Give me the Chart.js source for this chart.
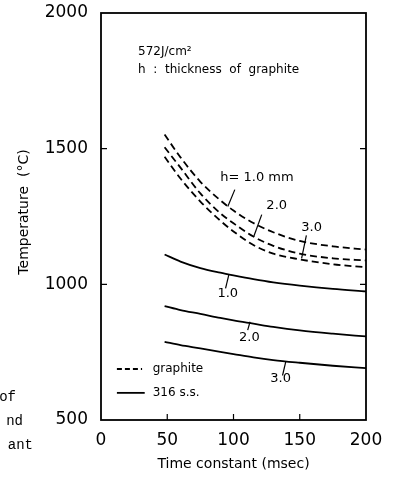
<!DOCTYPE html>
<html>
<head>
<meta charset="utf-8">
<script src="https://cdn.jsdelivr.net/npm/chart.js@4.4.1/dist/chart.umd.min.js"></script>
<style>
  html, body { margin: 0; padding: 0; background: #fff; }
  #wrap { width: 402px; height: 480px; }
</style>
</head>
<body>
<div id="wrap"><canvas id="tempChart" width="402" height="480"></canvas></div>
<script>
// time constant (msec) sampled along every curve
const times = [48, 60, 75, 90, 100, 115, 130, 150, 175, 200];

// graphite (dashed), h = 1.0 / 2.0 / 3.0 mm
const graphite10 = [1552, 1468, 1378, 1310, 1272, 1226, 1192, 1160, 1140, 1128];
const graphite20 = [1505, 1430, 1335, 1262, 1225, 1176, 1142, 1113, 1096, 1088];
const graphite30 = [1470, 1390, 1305, 1235, 1195, 1145, 1113, 1092, 1074, 1063];

// 316 s.s. (solid), h = 1.0 / 2.0 / 3.0 mm
const steel10 = [1110, 1084, 1060, 1043, 1033, 1019, 1007, 995, 983, 974];
const steel20 = [920, 905, 891, 876, 867, 855, 843, 830, 818, 808];
const steel30 = [788, 776, 764, 751, 743, 731, 721, 711, 700, 691];

const xTicks = [0, 50, 100, 150, 200];
const yTicks = [500, 1000, 1500, 2000];

// curve labels: text, label position, leader line (all in data units)
const curveLabels = [
    { text: "h= 1.0 mm", x: 90, y: 1393, align: "left", leader: [[101, 1349], [95.7, 1287]] },
    { text: "2.0", x: 132.6, y: 1290, align: "center", leader: [[121.3, 1257], [115.3, 1176]] },
    { text: "3.0", x: 159, y: 1210, align: "center", leader: [[155, 1180], [151.4, 1096]] },
    { text: "1.0", x: 95.7, y: 967, align: "center", leader: [[96.5, 1036], [94, 985]] },
    { text: "2.0", x: 112, y: 805, align: "center", leader: [[112.5, 862], [110.7, 831]] },
    { text: "3.0", x: 135.6, y: 651, align: "center", leader: [[139.5, 716], [137, 664]] }
];

const FONT = "'DejaVu Sans', sans-serif";

function toPts(ys) {
    return times.map((t, i) => ({ x: t, y: ys[i] }));
}

function curve(label, ys, dashed) {
    return {
        label: label,
        data: toPts(ys),
        borderColor: "#000",
        borderWidth: 1.8,
        borderDash: dashed ? [7, 4] : [],
        pointRadius: 0,
        fill: false,
        cubicInterpolationMode: "monotone"
    };
}

const decorPlugin = {
    id: "decor",
    afterDraw(chart) {
        const ctx = chart.ctx;
        const a = chart.chartArea;
        const xs = chart.scales.x, ys = chart.scales.y;
        const px = v => xs.getPixelForValue(v);
        const py = v => ys.getPixelForValue(v);
        ctx.save();
        ctx.strokeStyle = "#000";
        ctx.fillStyle = "#000";

        // frame
        ctx.lineWidth = 1.8;
        ctx.strokeRect(a.left, a.top, a.right - a.left, a.bottom - a.top);

        // inward tick marks
        ctx.lineWidth = 1.2;
        ctx.beginPath();
        [50, 100, 150].forEach(v => {
            ctx.moveTo(px(v), a.bottom);
            ctx.lineTo(px(v), a.bottom - 6);
        });
        [1000, 1500].forEach(v => {
            ctx.moveTo(a.left, py(v));
            ctx.lineTo(a.left + 6, py(v));
            ctx.moveTo(a.right, py(v));
            ctx.lineTo(a.right - 6, py(v));
        });
        ctx.stroke();

        // curve labels with leaders
        ctx.font = "13px " + FONT;
        ctx.textBaseline = "middle";
        ctx.lineWidth = 1.2;
        curveLabels.forEach(l => {
            ctx.textAlign = l.align;
            ctx.fillText(l.text, px(l.x), py(l.y));
            ctx.beginPath();
            ctx.moveTo(px(l.leader[0][0]), py(l.leader[0][1]));
            ctx.lineTo(px(l.leader[1][0]), py(l.leader[1][1]));
            ctx.stroke();
        });

        // heading
        ctx.textAlign = "left";
        ctx.font = "12px " + FONT;
        ctx.fillText("572J/cm\u00B2", px(28), py(1857));
        ctx.fillText("h  :  thickness  of  graphite", px(28), py(1790));

        // legend
        ctx.lineWidth = 1.8;
        ctx.setLineDash([5, 3]);
        ctx.beginPath();
        ctx.moveTo(px(12), py(688));
        ctx.lineTo(px(31), py(688));
        ctx.stroke();
        ctx.setLineDash([]);
        ctx.beginPath();
        ctx.moveTo(px(12), py(600));
        ctx.lineTo(px(33), py(600));
        ctx.stroke();
        ctx.fillText("graphite", px(39), py(688));
        ctx.fillText("316 s.s.", px(39), py(600));

        // axis title
        ctx.save();
        ctx.font = "14px " + FONT;
        ctx.textAlign = "center";
        ctx.translate(24, 212);
        ctx.rotate(-Math.PI / 2);
        ctx.fillText("Temperature  (\u00B0C)", 0, 0);
        ctx.restore();

        // cut-off text from the neighbouring page column
        ctx.font = "14px 'Liberation Mono', monospace";
        ctx.textAlign = "right";
        ctx.fillText("of", 16, 397);
        ctx.fillText("nd", 23, 421);
        ctx.fillText("ant", 33, 445);

        ctx.restore();
    }
};

new Chart(document.getElementById("tempChart"), {
    type: "line",
    data: {
        datasets: [
            curve("graphite 1.0", graphite10, true),
            curve("graphite 2.0", graphite20, true),
            curve("graphite 3.0", graphite30, true),
            curve("316 s.s. 1.0", steel10, false),
            curve("316 s.s. 2.0", steel20, false),
            curve("316 s.s. 3.0", steel30, false)
        ]
    },
    options: {
        responsive: false,
        animation: false,
        layout: { padding: { top: 13, right: 36, left: 0, bottom: 0 } },
        plugins: { legend: { display: false }, tooltip: { enabled: false } },
        scales: {
            x: {
                type: "linear",
                min: 0,
                max: 200,
                afterFit(s) { s.height = 60; s.paddingLeft = 0; s.paddingRight = 0; },
                afterBuildTicks(s) { s.ticks = xTicks.map(v => ({ value: v })); },
                grid: { display: false, drawTicks: false },
                border: { display: false },
                ticks: {
                    color: "#000", font: { family: FONT, size: 17 }, padding: 10, maxRotation: 0,
                    callback: v => String(v)
                },
                title: {
                    display: true,
                    text: "Time constant (msec)",
                    color: "#000",
                    font: { family: FONT, size: 14 },
                    padding: { top: 0, bottom: 7 }
                }
            },
            y: {
                min: 500,
                max: 2000,
                afterFit(s) { s.width = 101; s.paddingTop = 0; s.paddingBottom = 0; },
                afterBuildTicks(s) { s.ticks = yTicks.map(v => ({ value: v })); },
                grid: { display: false, drawTicks: false },
                border: { display: false },
                ticks: {
                    color: "#000", font: { family: FONT, size: 17 }, padding: 13,
                    callback: v => String(v)
                }
            }
        }
    },
    plugins: [decorPlugin]
});
</script>
</body>
</html>
